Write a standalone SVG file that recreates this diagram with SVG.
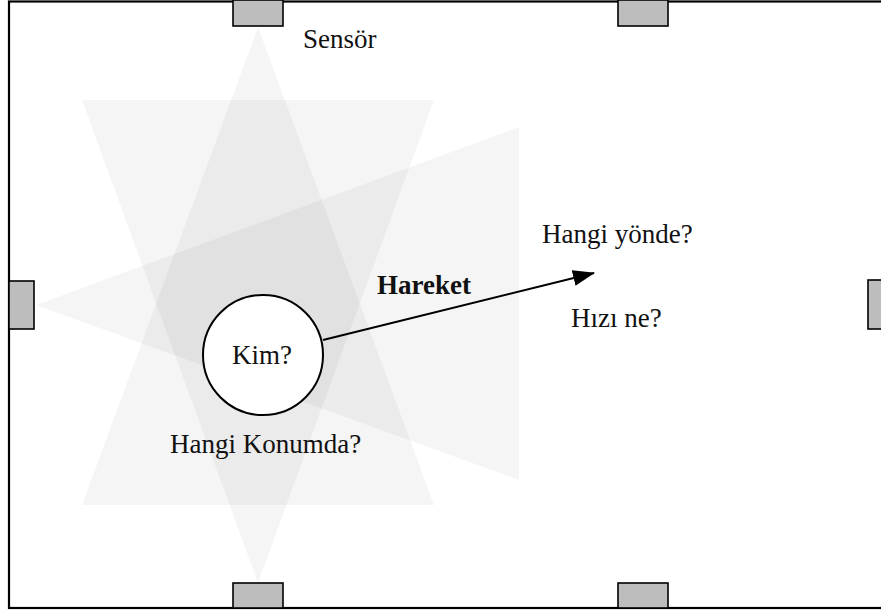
<svg xmlns="http://www.w3.org/2000/svg" width="881" height="612" viewBox="0 0 881 612">
<style>
.room{fill:#fff;stroke:#000;stroke-width:2.2}
.beam{fill:#000;fill-opacity:0.038;stroke:none}
.sensor{fill:#bdbdbd;stroke:#000;stroke-width:1.6}
.t{font-family:"Liberation Serif","Times New Roman",serif;font-size:27px;fill:#111}
.b{font-weight:bold}
.conn{stroke:#000;stroke-width:2;fill:none}
</style>
<defs>
<marker id="ah" markerWidth="22" markerHeight="16" refX="21" refY="8" orient="auto" markerUnits="userSpaceOnUse">
<path d="M0,0 L22,8 L0,16 Z" fill="#000"/>
</marker>
</defs>
<rect class="room" x="9" y="1.5" width="900" height="606.5"/>
<g id="beams">
<polygon class="beam" points="82,100 434,100 258,583"/>
<polygon class="beam" points="258,27 82,505 434,505"/>
<polygon class="beam" points="36,305 519,127 519,480"/>
</g>
<g id="sensor-top-1"><rect class="sensor" x="233" y="0" width="50" height="26"/></g>
<g id="sensor-top-2"><rect class="sensor" x="618" y="0" width="50" height="26"/></g>
<g id="sensor-bottom-1"><rect class="sensor" x="233" y="583" width="50" height="25"/></g>
<g id="sensor-bottom-2"><rect class="sensor" x="618" y="583" width="50" height="25"/></g>
<g id="sensor-left"><rect class="sensor" x="9" y="281" width="25" height="48"/></g>
<g id="sensor-right"><rect class="sensor" x="868" y="280" width="20" height="49"/></g>
<text class="t" x="303" y="48">Sensör</text>
<g id="connectors">
<line class="conn" x1="323" y1="340" x2="594" y2="273" marker-end="url(#ah)"/>
</g>
<g id="person">
<circle cx="263" cy="355" r="60" fill="#fff" stroke="#000" stroke-width="2"/>
<text class="t" x="262" y="364" text-anchor="middle">Kim?</text>
</g>
<text class="t b" x="377" y="294">Hareket</text>
<text class="t" x="542" y="243">Hangi yönde?</text>
<text class="t" x="571" y="327">Hızı ne?</text>
<text class="t" x="170" y="453">Hangi Konumda?</text>
</svg>
